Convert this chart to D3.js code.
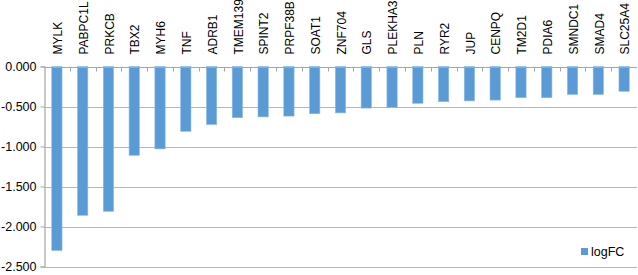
<!DOCTYPE html>
<html>
<head>
<meta charset="utf-8">
<script src="https://cdn.jsdelivr.net/npm/d3@7"></script>
<style>
  body { margin: 0; background: #fff; }
  svg text { font-family: 'Liberation Sans', Arial, sans-serif; fill: #000; }
</style>
</head>
<body>
<div id="chart"></div>
<script>
const genes = ['MYLK', 'PABPC1L', 'PRKCB', 'TBX2', 'MYH6', 'TNF', 'ADRB1', 'TMEM139',
  'SPINT2', 'PRPF38B', 'SOAT1', 'ZNF704', 'GLS', 'PLEKHA3', 'PLN', 'RYR2', 'JUP',
  'CENPQ', 'TM2D1', 'PDIA6', 'SMNDC1', 'SMAD4', 'SLC25A4']
const logFC = [-2.30, -1.86, -1.81, -1.11, -1.03, -0.81, -0.725, -0.64,
  -0.63, -0.62, -0.59, -0.58, -0.52, -0.51, -0.46, -0.44, -0.43,
  -0.42, -0.39, -0.39, -0.35, -0.35, -0.31]
const yTicks = [0, -0.5, -1, -1.5, -2, -2.5]

const width = 638, height = 275
const margin = {top: 66.5, right: 1, bottom: 8.5, left: 44}

const svg = d3.select('#chart').append('svg')
  .attr('width', width)
  .attr('height', height)

const x = d3.scaleBand()
  .domain(genes)
  .range([margin.left, width - margin.right])
  .paddingInner(0.6)
  .paddingOuter(0.3)

const band = d3.scaleBand()
  .domain(genes)
  .range([margin.left, width - margin.right])

const y = d3.scaleLinear()
  .domain([-2.5, 0])
  .range([height - margin.bottom, margin.top])

// gridlines
svg.append('g')
  .selectAll('line')
  .data(yTicks.filter(d => d !== 0))
  .enter().append('line')
  .attr('x1', margin.left)
  .attr('x2', width - margin.right)
  .attr('y1', d => Math.round(y(d)) + 0.5)
  .attr('y2', d => Math.round(y(d)) + 0.5)
  .attr('stroke', '#b8b8b8')
  .attr('stroke-width', 1.2)

// y axis
const yAxis = d3.axisLeft(y)
  .tickValues(yTicks)
  .tickSize(4)
  .tickPadding(5)
svg.append('g')
  .attr('transform', `translate(${margin.left + 0.5}, 0)`)
  .call(yAxis)
  .call(g => g.select('.domain').attr('stroke', '#a6a6a6').attr('stroke-width', 1.2))
  .call(g => g.selectAll('.tick line').attr('stroke', '#a6a6a6'))
  .call(g => g.selectAll('.tick text')
    .style('font-size', '12.5px')
    .attr('x', -8)
    .text(d => (d < 0 ? '-' : '') + Math.abs(d).toFixed(3)))

// bars
svg.append('g')
  .selectAll('rect')
  .data(genes)
  .enter().append('rect')
  .attr('x', d => x(d))
  .attr('y', y(0))
  .attr('width', x.bandwidth())
  .attr('height', (d, i) => y(logFC[i]) - y(0))
  .attr('fill', '#5b9bd5')
  .attr('stroke', '#8fbbe6')
  .attr('stroke-width', 0.6)

// x axis at zero
const xAxisG = svg.append('g')
  .attr('transform', `translate(0, ${Math.round(y(0)) + 0.5})`)
xAxisG.append('line')
  .attr('x1', margin.left)
  .attr('x2', width - margin.right)
  .attr('stroke', '#a6a6a6')
  .attr('stroke-width', 1.2)
xAxisG.selectAll('.xtick')
  .data(genes.slice(1))
  .enter().append('line')
  .attr('x1', d => Math.round(band(d)) + 0.5)
  .attr('x2', d => Math.round(band(d)) + 0.5)
  .attr('y1', 0)
  .attr('y2', 4)
  .attr('stroke', '#a6a6a6')

// category labels
svg.append('g')
  .selectAll('text')
  .data(genes)
  .enter().append('text')
  .attr('transform', d => `translate(${band(d) + band.bandwidth() / 2 + 1}, ${y(0) - 12}) rotate(-90)`)
  .attr('dy', '0.35em')
  .style('text-anchor', 'start')
  .style('font-size', '12px')
  .text(d => d)

// legend
const legend = svg.append('g')
  .attr('transform', 'translate(581, 248)')
legend.append('rect')
  .attr('width', 7)
  .attr('height', 7)
  .attr('fill', '#5b9bd5')
legend.append('text')
  .attr('x', 10)
  .attr('y', 7.5)
  .style('font-size', '12.5px')
  .text('logFC')
</script>
</body>
</html>
